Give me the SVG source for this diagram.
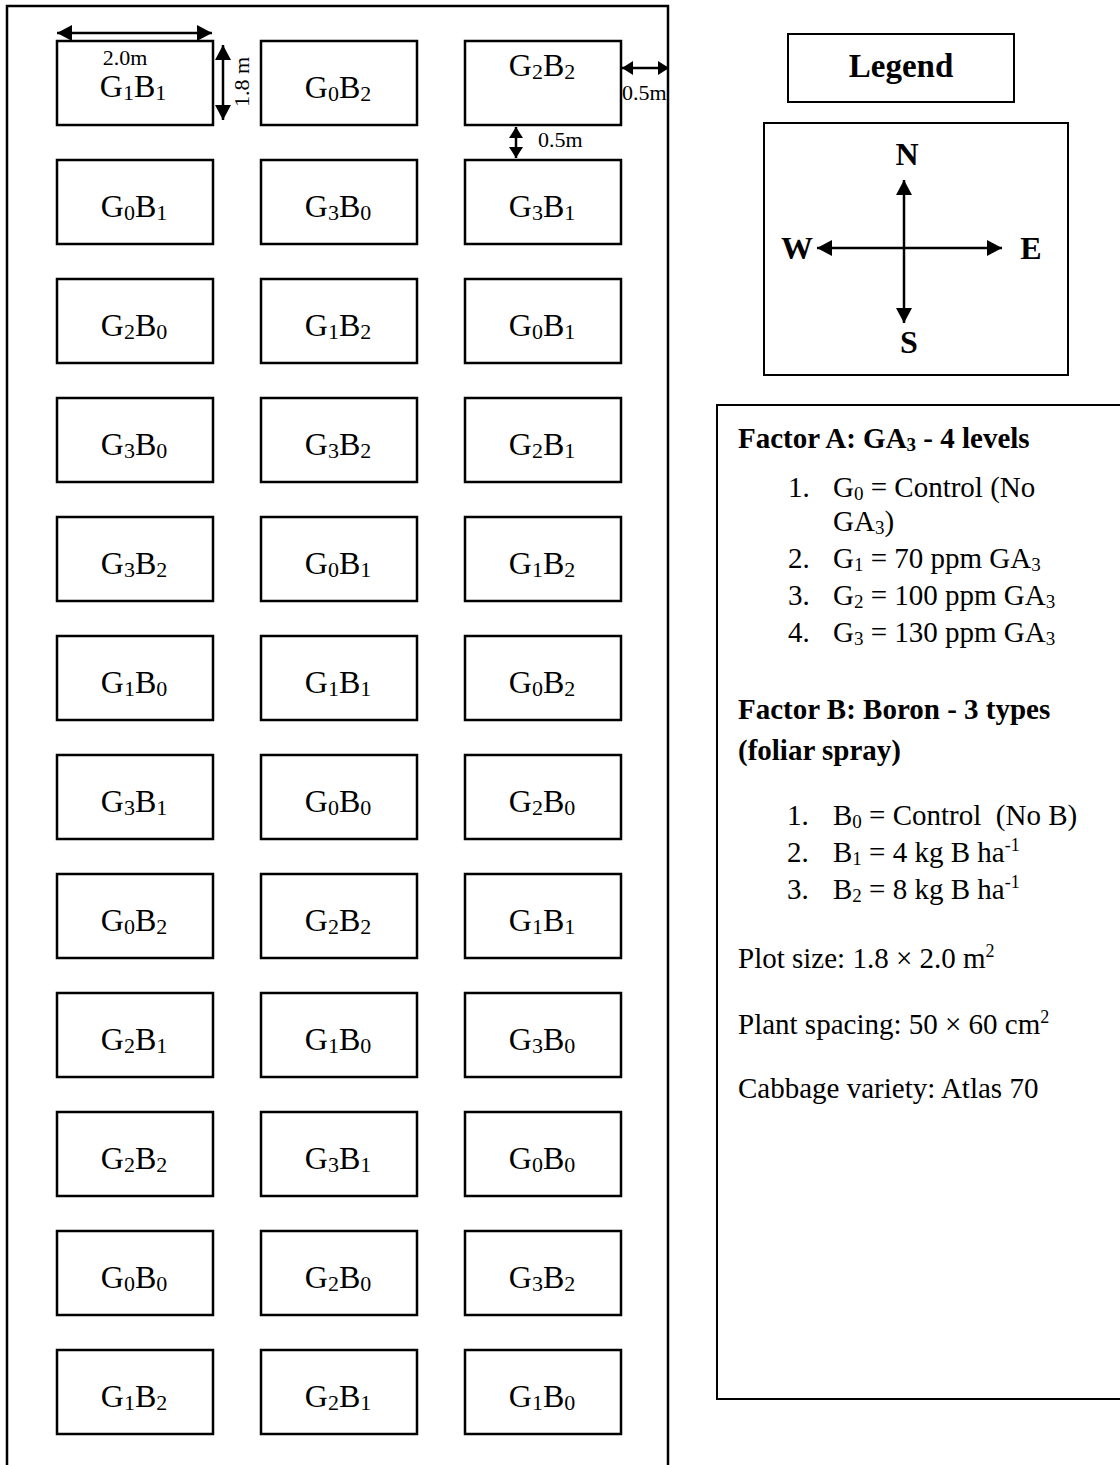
<svg xmlns="http://www.w3.org/2000/svg" width="1120" height="1465" viewBox="0 0 1120 1465">
<style>
  text { font-family: "Liberation Serif", "Times New Roman", serif; fill: #000; }
  .plot rect { fill: #fff; stroke: #000; stroke-width: 2.5; }
  .pl { font-size: 32px; text-anchor: middle; }
  .s { font-size: 22px; }
  .dim { font-size: 22px; }
  .ln { stroke: #000; stroke-width: 2.5; fill: none; }
  .box { fill: #fff; stroke: #000; stroke-width: 2; }
  .b { font-weight: bold; }
  .tx { font-size: 29px; }
  .ss { font-size: 19px; }
  .sup { font-size: 18px; }
</style>
<defs>
  <marker id="ah" viewBox="0 0 15 16" refX="15" refY="8" markerWidth="15" markerHeight="16" markerUnits="userSpaceOnUse" orient="auto-start-reverse">
    <path d="M0,0 L15,8 L0,16 z" fill="#000"/>
  </marker>
  <marker id="ahs" viewBox="0 0 11 14" refX="11" refY="7" markerWidth="11" markerHeight="14" markerUnits="userSpaceOnUse" orient="auto-start-reverse">
    <path d="M0,0 L11,7 L0,14 z" fill="#000"/>
  </marker>
</defs>

<rect width="1120" height="1465" fill="#fff"/>

<!-- field border (open at bottom) -->
<g id="field">
  <path d="M7,1470 L7,6 L668,6 L668,1470" class="ln"/>
</g>

<!-- plots -->
<g id="plots" class="plot">
  <g id="r1c1"><rect x="57" y="41" width="156" height="84"/><text class="pl" x="133" y="97">G<tspan class="s" dy="3">1</tspan><tspan dy="-3">B</tspan><tspan class="s" dy="3">1</tspan></text></g>
  <g id="r1c2"><rect x="261" y="41" width="156" height="84"/><text class="pl" x="338" y="98">G<tspan class="s" dy="3">0</tspan><tspan dy="-3">B</tspan><tspan class="s" dy="3">2</tspan></text></g>
  <g id="r1c3"><rect x="465" y="41" width="156" height="84"/><text class="pl" x="542" y="76">G<tspan class="s" dy="3">2</tspan><tspan dy="-3">B</tspan><tspan class="s" dy="3">2</tspan></text></g>

  <g id="r2c1"><rect x="57" y="160" width="156" height="84"/><text class="pl" x="134" y="217">G<tspan class="s" dy="3">0</tspan><tspan dy="-3">B</tspan><tspan class="s" dy="3">1</tspan></text></g>
  <g id="r2c2"><rect x="261" y="160" width="156" height="84"/><text class="pl" x="338" y="217">G<tspan class="s" dy="3">3</tspan><tspan dy="-3">B</tspan><tspan class="s" dy="3">0</tspan></text></g>
  <g id="r2c3"><rect x="465" y="160" width="156" height="84"/><text class="pl" x="542" y="217">G<tspan class="s" dy="3">3</tspan><tspan dy="-3">B</tspan><tspan class="s" dy="3">1</tspan></text></g>

  <g id="r3c1"><rect x="57" y="279" width="156" height="84"/><text class="pl" x="134" y="336">G<tspan class="s" dy="3">2</tspan><tspan dy="-3">B</tspan><tspan class="s" dy="3">0</tspan></text></g>
  <g id="r3c2"><rect x="261" y="279" width="156" height="84"/><text class="pl" x="338" y="336">G<tspan class="s" dy="3">1</tspan><tspan dy="-3">B</tspan><tspan class="s" dy="3">2</tspan></text></g>
  <g id="r3c3"><rect x="465" y="279" width="156" height="84"/><text class="pl" x="542" y="336">G<tspan class="s" dy="3">0</tspan><tspan dy="-3">B</tspan><tspan class="s" dy="3">1</tspan></text></g>

  <g id="r4c1"><rect x="57" y="398" width="156" height="84"/><text class="pl" x="134" y="455">G<tspan class="s" dy="3">3</tspan><tspan dy="-3">B</tspan><tspan class="s" dy="3">0</tspan></text></g>
  <g id="r4c2"><rect x="261" y="398" width="156" height="84"/><text class="pl" x="338" y="455">G<tspan class="s" dy="3">3</tspan><tspan dy="-3">B</tspan><tspan class="s" dy="3">2</tspan></text></g>
  <g id="r4c3"><rect x="465" y="398" width="156" height="84"/><text class="pl" x="542" y="455">G<tspan class="s" dy="3">2</tspan><tspan dy="-3">B</tspan><tspan class="s" dy="3">1</tspan></text></g>

  <g id="r5c1"><rect x="57" y="517" width="156" height="84"/><text class="pl" x="134" y="574">G<tspan class="s" dy="3">3</tspan><tspan dy="-3">B</tspan><tspan class="s" dy="3">2</tspan></text></g>
  <g id="r5c2"><rect x="261" y="517" width="156" height="84"/><text class="pl" x="338" y="574">G<tspan class="s" dy="3">0</tspan><tspan dy="-3">B</tspan><tspan class="s" dy="3">1</tspan></text></g>
  <g id="r5c3"><rect x="465" y="517" width="156" height="84"/><text class="pl" x="542" y="574">G<tspan class="s" dy="3">1</tspan><tspan dy="-3">B</tspan><tspan class="s" dy="3">2</tspan></text></g>

  <g id="r6c1"><rect x="57" y="636" width="156" height="84"/><text class="pl" x="134" y="693">G<tspan class="s" dy="3">1</tspan><tspan dy="-3">B</tspan><tspan class="s" dy="3">0</tspan></text></g>
  <g id="r6c2"><rect x="261" y="636" width="156" height="84"/><text class="pl" x="338" y="693">G<tspan class="s" dy="3">1</tspan><tspan dy="-3">B</tspan><tspan class="s" dy="3">1</tspan></text></g>
  <g id="r6c3"><rect x="465" y="636" width="156" height="84"/><text class="pl" x="542" y="693">G<tspan class="s" dy="3">0</tspan><tspan dy="-3">B</tspan><tspan class="s" dy="3">2</tspan></text></g>

  <g id="r7c1"><rect x="57" y="755" width="156" height="84"/><text class="pl" x="134" y="812">G<tspan class="s" dy="3">3</tspan><tspan dy="-3">B</tspan><tspan class="s" dy="3">1</tspan></text></g>
  <g id="r7c2"><rect x="261" y="755" width="156" height="84"/><text class="pl" x="338" y="812">G<tspan class="s" dy="3">0</tspan><tspan dy="-3">B</tspan><tspan class="s" dy="3">0</tspan></text></g>
  <g id="r7c3"><rect x="465" y="755" width="156" height="84"/><text class="pl" x="542" y="812">G<tspan class="s" dy="3">2</tspan><tspan dy="-3">B</tspan><tspan class="s" dy="3">0</tspan></text></g>

  <g id="r8c1"><rect x="57" y="874" width="156" height="84"/><text class="pl" x="134" y="931">G<tspan class="s" dy="3">0</tspan><tspan dy="-3">B</tspan><tspan class="s" dy="3">2</tspan></text></g>
  <g id="r8c2"><rect x="261" y="874" width="156" height="84"/><text class="pl" x="338" y="931">G<tspan class="s" dy="3">2</tspan><tspan dy="-3">B</tspan><tspan class="s" dy="3">2</tspan></text></g>
  <g id="r8c3"><rect x="465" y="874" width="156" height="84"/><text class="pl" x="542" y="931">G<tspan class="s" dy="3">1</tspan><tspan dy="-3">B</tspan><tspan class="s" dy="3">1</tspan></text></g>

  <g id="r9c1"><rect x="57" y="993" width="156" height="84"/><text class="pl" x="134" y="1050">G<tspan class="s" dy="3">2</tspan><tspan dy="-3">B</tspan><tspan class="s" dy="3">1</tspan></text></g>
  <g id="r9c2"><rect x="261" y="993" width="156" height="84"/><text class="pl" x="338" y="1050">G<tspan class="s" dy="3">1</tspan><tspan dy="-3">B</tspan><tspan class="s" dy="3">0</tspan></text></g>
  <g id="r9c3"><rect x="465" y="993" width="156" height="84"/><text class="pl" x="542" y="1050">G<tspan class="s" dy="3">3</tspan><tspan dy="-3">B</tspan><tspan class="s" dy="3">0</tspan></text></g>

  <g id="r10c1"><rect x="57" y="1112" width="156" height="84"/><text class="pl" x="134" y="1169">G<tspan class="s" dy="3">2</tspan><tspan dy="-3">B</tspan><tspan class="s" dy="3">2</tspan></text></g>
  <g id="r10c2"><rect x="261" y="1112" width="156" height="84"/><text class="pl" x="338" y="1169">G<tspan class="s" dy="3">3</tspan><tspan dy="-3">B</tspan><tspan class="s" dy="3">1</tspan></text></g>
  <g id="r10c3"><rect x="465" y="1112" width="156" height="84"/><text class="pl" x="542" y="1169">G<tspan class="s" dy="3">0</tspan><tspan dy="-3">B</tspan><tspan class="s" dy="3">0</tspan></text></g>

  <g id="r11c1"><rect x="57" y="1231" width="156" height="84"/><text class="pl" x="134" y="1288">G<tspan class="s" dy="3">0</tspan><tspan dy="-3">B</tspan><tspan class="s" dy="3">0</tspan></text></g>
  <g id="r11c2"><rect x="261" y="1231" width="156" height="84"/><text class="pl" x="338" y="1288">G<tspan class="s" dy="3">2</tspan><tspan dy="-3">B</tspan><tspan class="s" dy="3">0</tspan></text></g>
  <g id="r11c3"><rect x="465" y="1231" width="156" height="84"/><text class="pl" x="542" y="1288">G<tspan class="s" dy="3">3</tspan><tspan dy="-3">B</tspan><tspan class="s" dy="3">2</tspan></text></g>

  <g id="r12c1"><rect x="57" y="1350" width="156" height="84"/><text class="pl" x="134" y="1407">G<tspan class="s" dy="3">1</tspan><tspan dy="-3">B</tspan><tspan class="s" dy="3">2</tspan></text></g>
  <g id="r12c2"><rect x="261" y="1350" width="156" height="84"/><text class="pl" x="338" y="1407">G<tspan class="s" dy="3">2</tspan><tspan dy="-3">B</tspan><tspan class="s" dy="3">1</tspan></text></g>
  <g id="r12c3"><rect x="465" y="1350" width="156" height="84"/><text class="pl" x="542" y="1407">G<tspan class="s" dy="3">1</tspan><tspan dy="-3">B</tspan><tspan class="s" dy="3">0</tspan></text></g>
</g>

<!-- dimension arrows -->
<g id="dimensions">
  <line x1="57" y1="33" x2="212" y2="33" class="ln" marker-start="url(#ah)" marker-end="url(#ah)"/>
  <text class="dim" x="125" y="65" text-anchor="middle">2.0m</text>
  <line x1="223" y1="45" x2="223" y2="120" class="ln" marker-start="url(#ah)" marker-end="url(#ah)"/>
  <text class="dim" x="249" y="82" text-anchor="middle" transform="rotate(-90 249 82)">1.8 m</text>
  <line x1="622" y1="68" x2="669" y2="68" class="ln" marker-start="url(#ahs)" marker-end="url(#ahs)"/>
  <text class="dim" x="622" y="100">0.5m</text>
  <line x1="516" y1="127" x2="516" y2="158" class="ln" marker-start="url(#ahs)" marker-end="url(#ahs)"/>
  <text class="dim" x="538" y="147">0.5m</text>
</g>

<!-- legend title -->
<g id="legend-title">
  <rect x="788" y="34" width="226" height="68" class="box"/>
  <text class="b" x="901" y="77" font-size="33" text-anchor="middle">Legend</text>
</g>

<!-- compass -->
<g id="compass">
  <rect x="764" y="123" width="304" height="252" class="box"/>
  <line x1="904" y1="248" x2="904" y2="180" class="ln" stroke-width="2" marker-end="url(#ah)"/>
  <line x1="904" y1="248" x2="904" y2="323" class="ln" stroke-width="2" marker-end="url(#ah)"/>
  <line x1="904" y1="248" x2="817" y2="248" class="ln" stroke-width="2" marker-end="url(#ah)"/>
  <line x1="904" y1="248" x2="1002" y2="248" class="ln" stroke-width="2" marker-end="url(#ah)"/>
  <text class="b" x="907" y="165" font-size="32" text-anchor="middle">N</text>
  <text class="b" x="909" y="353" font-size="32" text-anchor="middle">S</text>
  <text class="b" x="797" y="259" font-size="32" text-anchor="middle">W</text>
  <text class="b" x="1031" y="259" font-size="32" text-anchor="middle">E</text>
</g>

<!-- factors box -->
<g id="factors">
  <path d="M1125,405 L717,405 L717,1399 L1125,1399" class="box"/>
  <text class="tx b" x="738" y="448">Factor A: GA<tspan class="ss" dy="3">3</tspan><tspan dy="-3"> - 4 levels</tspan></text>
  <text class="tx" x="788" y="497">1.</text>
  <text class="tx" x="833" y="497">G<tspan class="ss" dy="3">0</tspan><tspan dy="-3"> = Control (No</tspan></text>
  <text class="tx" x="833" y="531">GA<tspan class="ss" dy="3">3</tspan><tspan dy="-3">)</tspan></text>
  <text class="tx" x="788" y="568">2.</text>
  <text class="tx" x="833" y="568">G<tspan class="ss" dy="3">1</tspan><tspan dy="-3"> = 70 ppm GA</tspan><tspan class="ss" dy="3">3</tspan></text>
  <text class="tx" x="788" y="605">3.</text>
  <text class="tx" x="833" y="605">G<tspan class="ss" dy="3">2</tspan><tspan dy="-3"> = 100 ppm GA</tspan><tspan class="ss" dy="3">3</tspan></text>
  <text class="tx" x="788" y="642">4.</text>
  <text class="tx" x="833" y="642">G<tspan class="ss" dy="3">3</tspan><tspan dy="-3"> = 130 ppm GA</tspan><tspan class="ss" dy="3">3</tspan></text>

  <text class="tx b" x="738" y="719">Factor B: Boron - 3 types</text>
  <text class="tx b" x="738" y="760">(foliar spray)</text>
  <text class="tx" x="787" y="825">1.</text>
  <text class="tx" x="833" y="825">B<tspan class="ss" dy="3">0</tspan><tspan dy="-3"> = Control&#160; (No B)</tspan></text>
  <text class="tx" x="787" y="862">2.</text>
  <text class="tx" x="833" y="862">B<tspan class="ss" dy="3">1</tspan><tspan dy="-3"> = 4 kg B ha</tspan><tspan class="sup" dy="-11">-1</tspan></text>
  <text class="tx" x="787" y="899">3.</text>
  <text class="tx" x="833" y="899">B<tspan class="ss" dy="3">2</tspan><tspan dy="-3"> = 8 kg B ha</tspan><tspan class="sup" dy="-11">-1</tspan></text>
  <text class="tx" x="738" y="968">Plot size: 1.8 × 2.0 m<tspan class="sup" dy="-11">2</tspan></text>
  <text class="tx" x="738" y="1034">Plant spacing: 50 × 60 cm<tspan class="sup" dy="-11">2</tspan></text>
  <text class="tx" x="738" y="1098">Cabbage variety: Atlas 70</text>
</g>
</svg>
